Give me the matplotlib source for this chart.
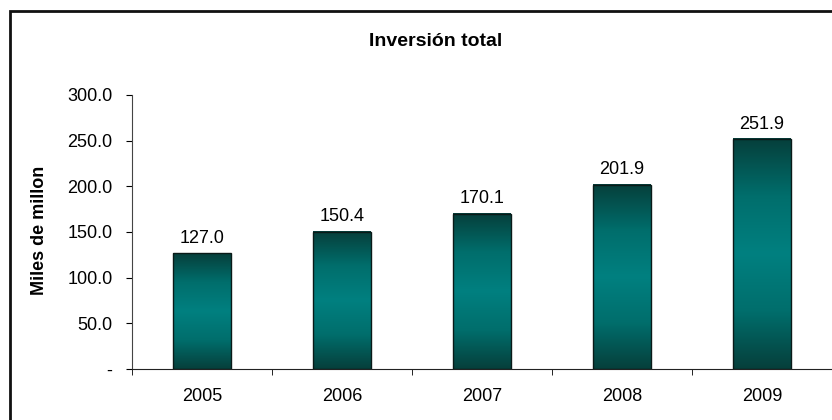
import numpy as np
import matplotlib.pyplot as plt
from matplotlib.colors import LinearSegmentedColormap
from matplotlib.patches import Rectangle

plt.rcParams['font.family'] = ['Liberation Sans', 'DejaVu Sans']

years = ['2005', '2006', '2007', '2008', '2009']
inversion = [127.0, 150.4, 170.1, 201.9, 251.9]
yticks = [0, 50, 100, 150, 200, 250, 300]
ytick_labels = ['-', '50.0', '100.0', '150.0', '200.0', '250.0', '300.0']

fig = plt.figure(figsize=(8.32, 4.2), dpi=100)
ax = fig.add_axes([132/832, (420-369)/420, 700/832, 274/420])

# marco exterior del grafico
fig.patches.append(Rectangle((10/832, -0.1), 1.2, (420-11)/420 + 0.1,
                             transform=fig.transFigure, fill=False,
                             edgecolor='#111111', linewidth=2))

# degradado vertical: oscuro arriba y abajo, verde azulado al centro
cmap = LinearSegmentedColormap.from_list('teal', ['#063f3b', '#006e6c', '#008080',
                                                  '#006e6c', '#063f3b'])
grad = np.linspace(0, 1, 256).reshape(-1, 1)
ancho = 0.41
x = np.arange(len(years))
bars = ax.bar(x, inversion, width=ancho, facecolor='none', edgecolor='#0a1a18',
              linewidth=1.0, zorder=3)
for b in bars:
    x0, w, h = b.get_x(), b.get_width(), b.get_height()
    ax.imshow(grad, cmap=cmap, aspect='auto', extent=[x0, x0 + w, 0, h],
              zorder=2, interpolation='bicubic')

for xi, v in zip(x, inversion):
    ax.annotate(f'{v:.1f}', (xi, v), xytext=(0, 4.5), textcoords='offset points',
                ha='center', va='bottom', fontsize=13)

ax.set_xlim(-0.5, len(years) - 0.5)
ax.set_ylim(0, 300)
ax.set_yticks(yticks)
ax.set_yticklabels(ytick_labels, fontsize=13)
ax.set_xticks(x)
ax.set_xticklabels(years, fontsize=13)
ax.set_xticks(np.arange(-0.5, len(years)), minor=True)
ax.tick_params(axis='x', which='major', length=0, pad=14)
ax.tick_params(axis='x', which='minor', length=4, direction='out')
ax.tick_params(axis='y', length=4, direction='out', pad=10)

for s in ['top', 'right']:
    ax.spines[s].set_visible(False)
ax.spines['left'].set_color('#444444')
ax.spines['bottom'].set_color('#222222')

fig.text(436/832, 1 - 42/420, 'Inversión total', ha='center', va='center',
         fontsize=14, fontweight='bold')
fig.text(40/832, 1 - 230/420, 'Miles de millon', ha='center', va='center',
         rotation=90, fontsize=13, fontweight='bold')

fig.savefig('out.png', dpi=100)
